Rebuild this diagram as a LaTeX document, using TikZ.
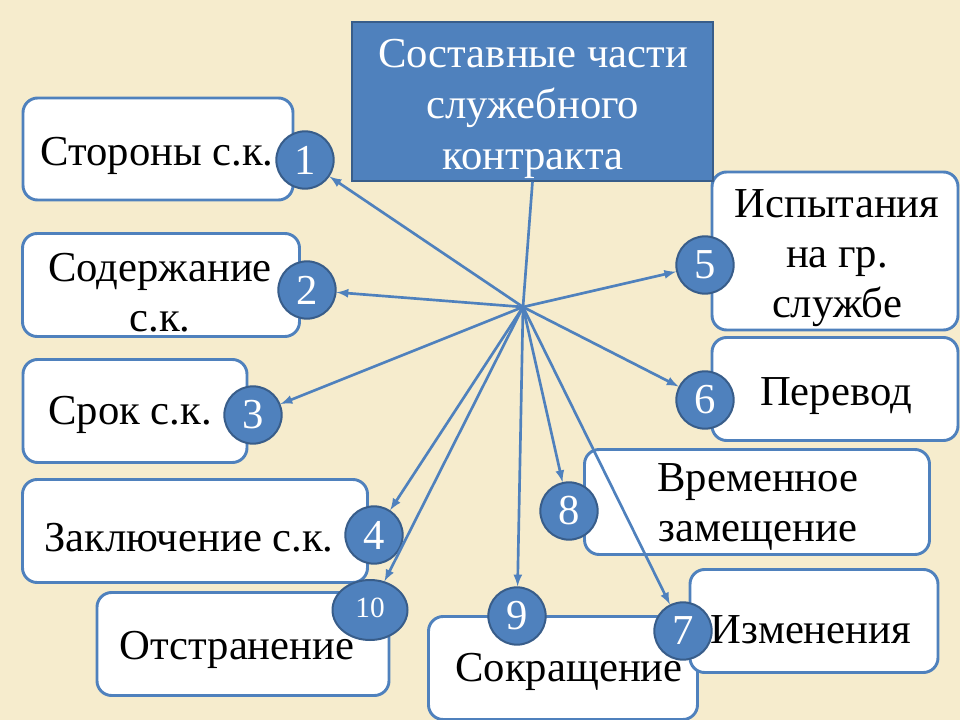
\documentclass[tikz,border=0pt]{standalone}
\usepackage{fontspec}
\setmainfont{Liberation Serif}
\usepackage{tikz}
\usetikzlibrary{positioning, shapes.geometric}
\definecolor{parch}{RGB}{246,236,205}
\definecolor{accent}{RGB}{79,129,189}
\definecolor{rim}{RGB}{56,93,138}
\tikzset{
  part/.style 2 args={draw=accent, line width=2.2pt, fill=white, rounded corners=11pt,
    minimum width=#1*.75pt, minimum height=#2*.75pt},
  txt/.style={align=center, inner sep=0pt, font=\fontsize{32}{37.5}\selectfont},
  num/.style={circle, draw=rim, line width=1.5pt, fill=accent, text=white, inner sep=0pt,
    minimum size=43pt, font=\fontsize{32}{34}\selectfont},
  arrow/.style={draw=accent, line width=2pt, -latex}
}

\begin{document}
\begin{tikzpicture}[x=.75pt, y=-.75pt]
        \fill[parch] (0,0) rectangle (960,720);
        \useasboundingbox (0,0) rectangle (960,720);
        % boxes
        \node[part={270}{102}] (b1) at (158,149) {};
        \node[part={277}{103}] (b2) at (161,285) {};
        \node[part={224}{103}] (b3) at (135,411) {};
        \node[part={345}{103}] (b4) at (195,531) {};
        \node[part={292}{103}] (b10) at (243,644) {};
        \node[part={269}{103}] (b9) at (563,668) {};
        \node[part={246}{158}] (b5) at (835,251) {};
        \node[part={246}{103}] (b6) at (835,389) {};
        \node[part={345}{105}] (b8) at (757,502) {};
        \node[part={248}{103}] (b7) at (814,621) {};
        \node[draw=rim, line width=1pt, fill=accent,
              minimum width=361*.75pt, minimum height=159*.75pt] (title) at (532.5,101.5) {};
        % texts
        \node[txt] (t1) at (157,156) {Стороны с.к.};
        \node[txt] (t2) at (160,293) {Содержание\\с.к.};
        \node[txt] (t3) at (130,415) {Срок с.к.};
        \node[txt] (t4) at (189,538) {Заключение с.к.};
        \node[txt] (t10) at (237,650) {Отстранение};
        \node[txt] (t9) at (569,672) {Сокращение};
        \node[txt] (t5) at (837,258) {Испытания\\на гр.\\службе};
        \node[txt] (t6) at (836,396) {Перевод};
        \node[txt] (t8) at (758,507) {Временное\\замещение};
        \node[txt] (t7) at (811,630) {Изменения};
        \node[txt, text=white, font=\fontsize{32}{38}\selectfont] (tt) at (533,109)
              {Составные части\\служебного\\контракта};
        \coordinate (hub) at (523,307);
        % numbers
        \node[num] (n1) at (305,160) {1};
        \node[num] (n2) at (307,290) {2};
        \node[num] (n3) at (253,415) {3};
        \node[num] (n4) at (374,535) {4};
        \node[num, ellipse, minimum width=75*.75pt, minimum height=60*.75pt,
              font=\fontsize{22}{24}\selectfont] (n10) at (370,610) {\raisebox{4pt}{10}};
        \node[num] (n9) at (517,616) {9};
        \node[num] (n8) at (569,511) {8};
        \node[num] (n5) at (705,265) {5};
        \node[num] (n6) at (705,400) {6};
        % lines
        \draw[accent, line width=2pt] (title.south) -- (hub);
        \foreach \k in {1,2,3,4,10,9,8,5,6}
          \draw[arrow] (hub) -- (n\k);
        \node[num] (n7) at (683,631) {7};
        \draw[arrow] (hub) -- (n7);
\end{tikzpicture}
\end{document}
